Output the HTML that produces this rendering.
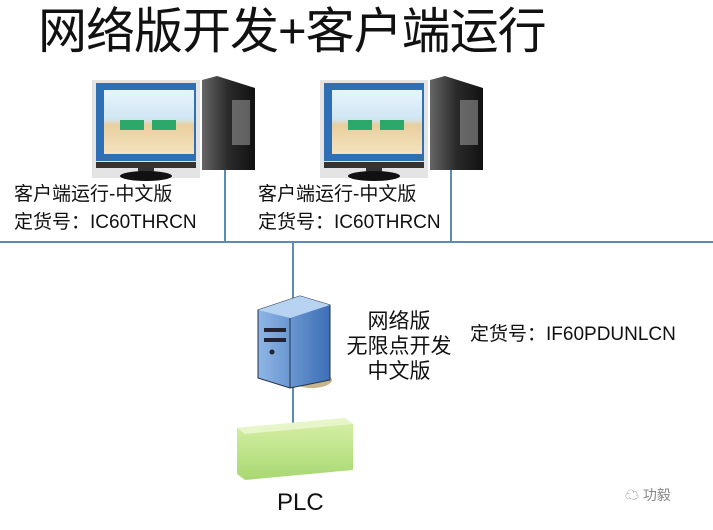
<!DOCTYPE html>
<html><head><meta charset="utf-8"><style>
html,body{margin:0;padding:0;background:#fff;}
body{width:713px;height:530px;position:relative;overflow:hidden;font-family:"Liberation Sans","Noto Sans CJK SC",sans-serif;color:#111;}
.t{position:absolute;white-space:nowrap;line-height:1;}
</style></head><body>
<svg width="713" height="530" style="position:absolute;left:0;top:0">
<defs>
<linearGradient id="tw" x1="0" x2="1"><stop offset="0" stop-color="#666"/><stop offset="0.5" stop-color="#2a2a2a"/><stop offset="1" stop-color="#111"/></linearGradient>
<linearGradient id="sc" x1="0" y1="0" x2="0" y2="1"><stop offset="0" stop-color="#e8f4fb"/><stop offset="0.45" stop-color="#cfe6f3"/><stop offset="0.55" stop-color="#e9cf9e"/><stop offset="1" stop-color="#f4e2bf"/></linearGradient>
<linearGradient id="sv" x1="0" x2="1"><stop offset="0" stop-color="#8fb6e6"/><stop offset="1" stop-color="#3d6fb6"/></linearGradient>
<linearGradient id="pl" x1="0" y1="0" x2="0" y2="1"><stop offset="0" stop-color="#d8f0a8"/><stop offset="1" stop-color="#a8d872"/></linearGradient>
<g id="pc">
 <polygon points="110,0 125,-4 163,8 163,90 110,90" fill="url(#tw)"/>
 <rect x="140" y="20" width="18" height="45" fill="#aaa" opacity="0.5"/>
 <rect x="0" y="0" width="108" height="98" fill="#e4e4e4"/>
 <rect x="4" y="3" width="100" height="78" fill="#2f6fb4"/>
 <rect x="12" y="10" width="90" height="64" fill="url(#sc)"/>
 <rect x="28" y="40" width="24" height="10" fill="#2ca86a"/>
 <rect x="60" y="40" width="24" height="10" fill="#2ca86a"/>
 <rect x="4" y="82" width="100" height="6" fill="#333"/>
 <rect x="46" y="88" width="16" height="6" fill="#333"/>
 <ellipse cx="54" cy="96" rx="26" ry="5" fill="#111"/>
</g>
</defs>
<use href="#pc" x="92" y="80"/>
<use href="#pc" x="320" y="80"/>
<g stroke="#5b8bb8" stroke-width="2" fill="none">
<line x1="0" y1="242" x2="713" y2="242"/>
<line x1="225" y1="170" x2="225" y2="242"/>
<line x1="451" y1="170" x2="451" y2="242"/>
<line x1="293" y1="242" x2="293" y2="300"/>
<line x1="293" y1="385" x2="293" y2="425"/>
</g>
<ellipse cx="312" cy="380" rx="20" ry="8" fill="#c8b48a"/>
<polygon points="258,310 300,296 330,305 330,380 290,388 258,378" fill="url(#sv)" stroke="#234" stroke-width="1"/>
<polygon points="258,310 300,296 330,305 290,318" fill="#b8d2f2"/>
<line x1="290" y1="318" x2="290" y2="388" stroke="#234"/>
<rect x="264" y="328" width="22" height="4" fill="#223"/>
<rect x="264" y="338" width="22" height="4" fill="#223"/>
<circle cx="272" cy="352" r="2.5" fill="#223"/>
<polygon points="237,428 345,418 353,424 353,470 245,480 237,474" fill="url(#pl)"/>
<polygon points="237,428 345,418 353,424 245,434" fill="#e6f6c8"/>
</svg>
<div class="t" style="left:38px;top:8px;font-size:49px;letter-spacing:-1px;">网络版开发+客户端运行</div>
<div class="t" style="left:14px;top:185px;font-size:19px;">客户端运行-中文版</div>
<div class="t" style="left:14px;top:213px;font-size:19px;">定货号：IC60THRCN</div>
<div class="t" style="left:258px;top:185px;font-size:19px;">客户端运行-中文版</div>
<div class="t" style="left:258px;top:213px;font-size:19px;">定货号：IC60THRCN</div>
<div class="t" style="left:344px;top:309px;width:110px;text-align:center;font-size:21px;line-height:25px;white-space:normal;">网络版<br>无限点开发<br>中文版</div>
<div class="t" style="left:470px;top:325px;font-size:19px;">定货号：IF60PDUNLCN</div>
<div class="t" style="left:277px;top:491px;font-size:24px;">PLC</div>
<div class="t" style="left:625px;top:488px;font-size:14px;color:#888;">☁ 功毅</div>
</body></html>
